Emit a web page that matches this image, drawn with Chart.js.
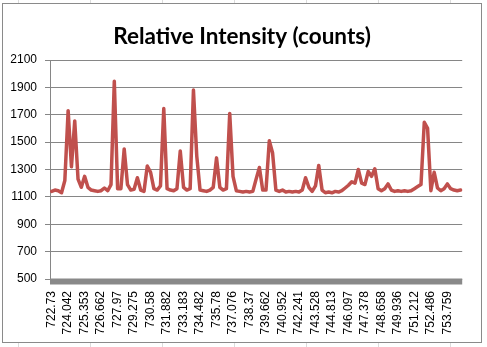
<!DOCTYPE html>
<html>
<head>
<meta charset="utf-8">
<script src="https://cdn.jsdelivr.net/npm/chart.js@4"></script>
<style>
  html, body { margin: 0; padding: 0; background: #fff; }
</style>
</head>
<body>
<canvas id="spectrum" width="487" height="347"></canvas>
<script>
// wavelength labels shown on the axis (every 5th sample)
const tickLabels = ['722.73', '724.042', '725.353', '726.662', '727.97', '729.275', '730.58',
  '731.882', '733.183', '734.482', '735.78', '737.076', '738.37', '739.662', '740.952',
  '742.241', '743.528', '744.813', '746.097', '747.378', '748.658', '749.936', '751.212',
  '752.486', '753.759'];

// relative intensity
const intensity = [
  1140, 1150, 1145, 1130, 1220, 1730, 1320, 1655, 1230, 1170,
  1250, 1170, 1150, 1145, 1140, 1145, 1165, 1145, 1190, 1945,
  1160, 1160, 1450, 1190, 1150, 1155, 1240, 1150, 1140, 1325,
  1280, 1160, 1150, 1180, 1745, 1160, 1150, 1145, 1160, 1435,
  1170, 1150, 1160, 1880, 1400, 1150, 1145, 1140, 1150, 1170,
  1385, 1170, 1150, 1160, 1710, 1250, 1145, 1140, 1135, 1140,
  1135, 1140, 1230, 1315, 1150, 1150, 1510, 1420, 1150, 1140,
  1150, 1135, 1140, 1135, 1140, 1135, 1150, 1240, 1170, 1140,
  1180, 1330, 1150, 1130, 1135, 1130, 1140, 1135, 1145, 1165,
  1185, 1210, 1200, 1300, 1200, 1190, 1285, 1250, 1305, 1160,
  1145, 1160, 1195, 1150, 1140, 1145, 1140, 1145, 1140, 1145,
  1160, 1175, 1190, 1645, 1600, 1145, 1280, 1165, 1145, 1160,
  1195, 1160, 1150, 1145, 1150
];

const yMin = 500;
const yMax = 2100;
const yStep = 200;

// one category per sample, only every 5th one is labelled
const categories = tickLabels.flatMap(t => [t, '', '', '', '']);

const axisFont = { family: 'Liberation Sans', size: 12 };

// sheet background, chart frame and the thick category axis bar
const excelLook = {
  id: 'excelLook',
  beforeDraw(chart) {
    const ctx = chart.ctx;
    ctx.save();
    ctx.fillStyle = '#fff';
    ctx.fillRect(0, 0, chart.width, chart.height);
    ctx.strokeStyle = '#dcdcdc';
    ctx.lineWidth = 1;
    [18.5, 90.5, 162.5, 234.5, 306.5, 378.5, 450.5].forEach(x => {
      ctx.beginPath();
      ctx.moveTo(x, 0);
      ctx.lineTo(x, chart.height);
      ctx.stroke();
    });
    ctx.fillStyle = '#fff';
    ctx.fillRect(3, 4, 478, 338);
    ctx.strokeStyle = '#8a8a8a';
    ctx.strokeRect(2.5, 3.5, 479, 339);
    ctx.restore();
  },
  beforeDatasetsDraw(chart) {
    const a = chart.chartArea;
    const ctx = chart.ctx;
    ctx.save();
    ctx.fillStyle = '#898989';
    ctx.fillRect(a.left, a.bottom - 0.5, a.right - a.left, 6);
    ctx.restore();
  }
};

new Chart(document.getElementById('spectrum'), {
  type: 'line',
  data: {
    labels: categories,
    datasets: [{
      label: 'Relative Intensity (counts)',
      data: intensity,
      borderColor: '#c0504d',
      borderWidth: 3.5,
      borderJoinStyle: 'round',
      borderCapStyle: 'round',
      pointRadius: 0,
      tension: 0,
      fill: false
    }]
  },
  options: {
    responsive: false,
    animation: false,
    layout: { padding: { left: 8, right: 11, top: 12, bottom: 0 } },
    plugins: {
      legend: { display: false },
      tooltip: { enabled: false },
      title: {
        display: true,
        text: 'Relative Intensity (counts)',
        color: '#000',
        font: { family: 'Lato', size: 22.5, weight: 'bold' },
        padding: { top: 11, bottom: 10 }
      }
    },
    scales: {
      x: {
        offset: true,
        grid: { display: false, drawTicks: false },
        border: { display: false },
        ticks: {
          autoSkip: false,
          minRotation: 90,
          maxRotation: 90,
          padding: 12,
          color: '#000',
          font: axisFont,
          callback: (v, i) => categories[i]
        },
        afterFit: s => { s.height = 68; }
      },
      y: {
        min: yMin,
        max: yMax,
        grid: { color: '#868686', tickLength: 5 },
        border: { color: '#868686' },
        ticks: {
          stepSize: yStep,
          padding: 8,
          color: '#000',
          font: axisFont,
          callback: v => String(v)
        },
        afterFit: s => { s.width = 42; }
      }
    }
  },
  plugins: [excelLook]
});
</script>
</body>
</html>
